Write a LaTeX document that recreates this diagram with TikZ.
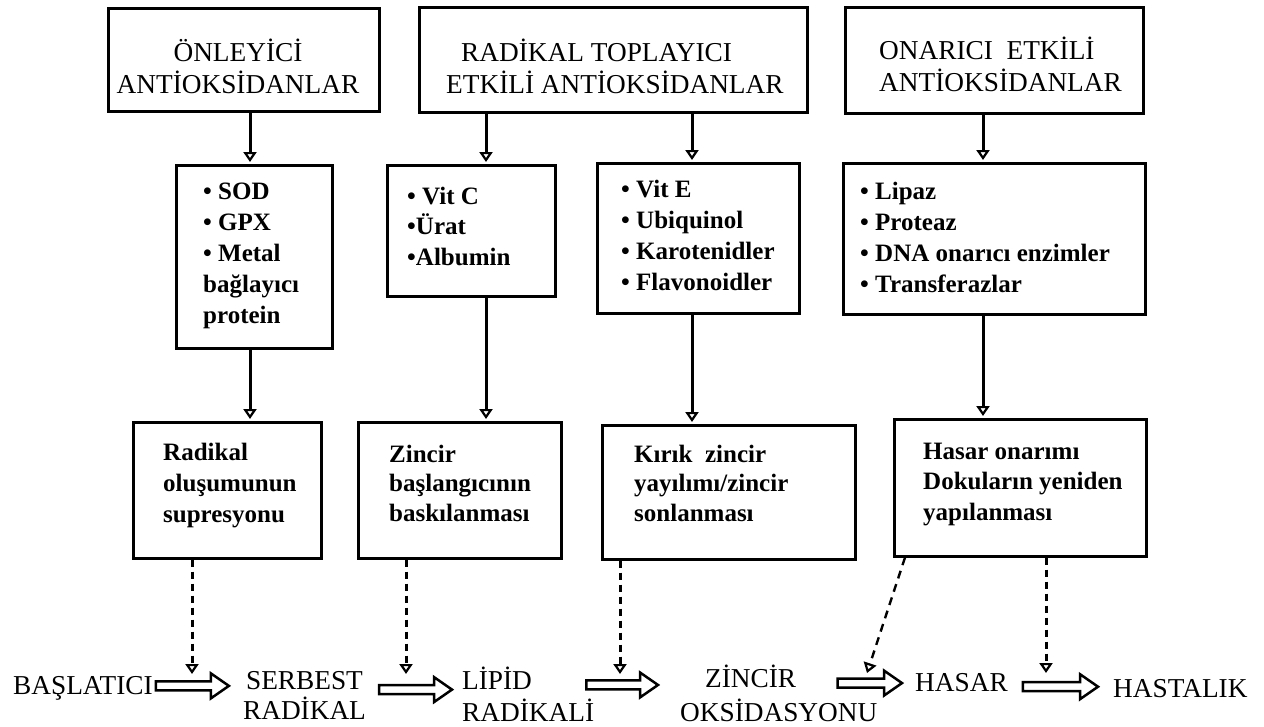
\documentclass[tikz,border=0pt]{standalone}
\usepackage{fontspec}
\setmainfont{Liberation Serif}
\usetikzlibrary{arrows.meta,calc}
\begin{document}
\begin{tikzpicture}[x=1pt,y=-1pt,
 box/.style={draw, line width=3pt, inner sep=0pt},
 ttxt/.style={inner sep=0pt, font=\fontsize{27.3}{32}\selectfont},
 ltxt/.style={inner sep=0pt, align=left, anchor=base west, font=\bfseries\fontsize{25}{31}\selectfont},
 btxt/.style={inner sep=0pt, font=\fontsize{27.3}{32}\selectfont},
 arr/.style={line width=3pt, -{Triangle[open, width=13pt, length=10pt, line width=2.2pt]}, shorten >=1.5pt},
 darr/.style={line width=3pt, dash pattern=on 7pt off 5pt, -{Triangle[open, width=13pt, length=10pt, line width=2.2pt]}},
 blk/.style={line width=2.5pt, to path={let \p1=(\tikztostart), \p2=(\tikztotarget) in
   (\x1,\y1+4.5pt) -- (\x2-18pt,\y1+4.5pt) -- (\x2-18pt,\y1+12.5pt) -- (\x2,\y1)
   -- (\x2-18pt,\y1-12.5pt) -- (\x2-18pt,\y1-4.5pt) -- (\x1,\y1-4.5pt) -- cycle}}
]
\fill[white] (0,0) rectangle (1264,726);
\useasboundingbox (0,0) rectangle (1264,726);

% top boxes
\node[box, minimum width=271pt, minimum height=103pt] (T1) at (243.5,59.5) {};
\node[box, minimum width=388pt, minimum height=105pt] (T2) at (613,59.5) {};
\node[box, minimum width=298pt, minimum height=106pt] (T3) at (994,60) {};
\node[ttxt, align=center, anchor=base] (T1t) at (238,93.5) {ÖNLEYİCİ\\ANTİOKSİDANLAR};
\node[ttxt, align=left, anchor=base west] (T2t) at (446,93.5) {\hspace*{15pt}RADİKAL TOPLAYICI\\ETKİLİ ANTİOKSİDANLAR};
\node[ttxt, align=left, anchor=base west] (T3t) at (879,91) {ONARICI~~ETKİLİ\\ANTİOKSİDANLAR};

% middle boxes
\node[box, minimum width=156pt, minimum height=183pt] (M1) at (254,256.5) {};
\node[box, minimum width=168pt, minimum height=131pt] (M2) at (471,230.5) {};
\node[box, minimum width=202pt, minimum height=150pt] (M3) at (698,238) {};
\node[box, minimum width=302pt, minimum height=151pt] (M4) at (994,238.5) {};
\node[ltxt] (M1t) at (203,323) {• SOD\\• GPX\\• Metal\\bağlayıcı\\protein};
\node[ltxt, font=\bfseries\fontsize{25}{30.5}\selectfont] (M2t) at (407,265) {• Vit C\\•Ürat\\•Albumin};
\node[ltxt] (M3t) at (621,290) {• Vit E\\• Ubiquinol\\• Karotenidler\\• Flavonoidler};
\node[ltxt] (M4t) at (860,292) {• Lipaz\\• Proteaz\\• DNA onarıcı enzimler\\• Transferazlar};

% lower boxes
\node[box, minimum width=188pt, minimum height=136pt] (B1) at (227,490) {};
\node[box, minimum width=203pt, minimum height=136pt] (B2) at (459.5,490) {};
\node[box, minimum width=253pt, minimum height=134pt] (B3) at (728.5,492) {};
\node[box, minimum width=252pt, minimum height=137pt] (B4) at (1020,487.5) {};
\node[ltxt] (B1t) at (163,522) {Radikal\\oluşumunun\\supresyonu};
\node[ltxt, font=\bfseries\fontsize{25}{29.5}\selectfont] (B2t) at (389,521) {Zincir\\başlangıcının\\baskılanması};
\node[ltxt, font=\bfseries\fontsize{25}{29.5}\selectfont] (B3t) at (634,521) {Kırık~~zincir\\yayılımı/zincir\\sonlanması};
\node[ltxt, font=\bfseries\fontsize{25}{30.5}\selectfont] (B4t) at (923,520) {Hasar onarımı\\Dokuların yeniden\\yapılanması};

% bottom row
\node[btxt, anchor=base west] (bas) at (13,694) {BAŞLATICI};
\node[btxt, align=center, anchor=base, font=\fontsize{27.3}{30}\selectfont] (ser) at (304.5,719) {SERBEST\\RADİKAL};
\node[btxt, align=left, anchor=base west] (lip) at (462,721) {LİPİD\\RADİKALİ};
\node[btxt, align=left, anchor=base west, font=\fontsize{27.3}{34}\selectfont] (zin) at (680,721) {\hspace*{25pt}ZİNCİR\\OKSİDASYONU};
\node[btxt, anchor=base west] (has) at (915,691) {HASAR};
\node[btxt, anchor=base west] (hst) at (1113,697) {HASTALIK};

% column lines
\coordinate (k1) at (250,0);
\coordinate (k2) at (486,0);
\coordinate (k3) at (692,0);
\coordinate (k4) at (983,0);
\draw[arr] (T1.south -| k1) -- (M1.north -| k1);
\draw[arr] (T2.south -| k2) -- (M2.north -| k2);
\draw[arr] (T2.south -| k3) -- (M3.north -| k3);
\draw[arr] (T3.south -| k4) -- (M4.north -| k4);
\draw[arr] (M1.south -| k1) -- (B1.north -| k1);
\draw[arr] (M2.south -| k2) -- (B2.north -| k2);
\draw[arr] (M3.south -| k3) -- (B3.north -| k3);
\draw[arr] (M4.south -| k4) -- (B4.north -| k4);

% dashed
\coordinate (e1) at (192,674);
\coordinate (e2) at (406,674);
\coordinate (e3) at (620,674);
\coordinate (s4) at (905,0);
\coordinate (e4) at (867,673);
\coordinate (e5) at (1046,673);
\draw[darr] (B1.south -| e1) -- (e1);
\draw[darr] (B2.south -| e2) -- (e2);
\draw[darr] (B3.south -| e3) -- (e3);
\draw[darr, line width=2.4pt, dash pattern=on 8pt off 6pt] (B4.south -| s4) -- (e4);
\draw[darr] (B4.south -| e5) -- (e5);

% block arrows
\draw[blk] ([xshift=3pt,yshift=2pt]bas.east) to ([xshift=-14pt]ser.west);
\draw[blk] ([xshift=13pt,yshift=5.4pt]ser.east) to ([xshift=-10pt]lip.west);
\draw[blk] ([xshift=-8pt,yshift=8.8pt]lip.east) to ([xshift=-22pt]zin.west);
\draw[blk] ([xshift=-40pt,yshift=9.8pt]zin.east) to ([xshift=-13pt]has.west);
\draw[blk] ([xshift=15pt,yshift=-4.6pt]has.east) to ([xshift=-15pt]hst.west);
\end{tikzpicture}
\end{document}
